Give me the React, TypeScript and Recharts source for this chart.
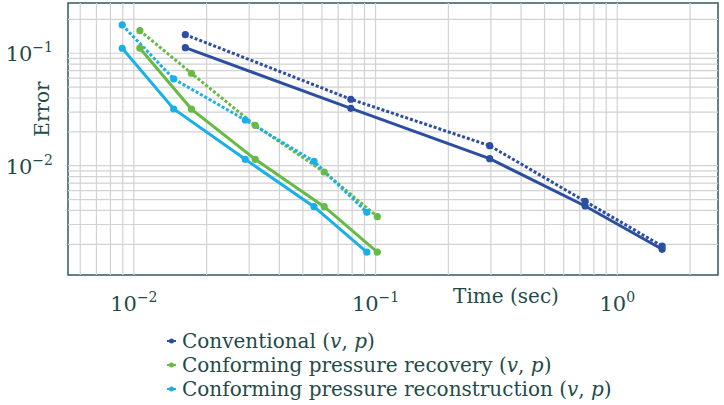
import { LineChart, Line, XAxis, YAxis, ReferenceLine, ReferenceArea } from 'recharts'

const conventionalTime = [0.01633, 0.079, 0.2965, 0.736, 1.533]
const conventionalErrV = [0.1121, 0.0324, 0.01154, 0.00438, 0.001804]
const conventionalErrP = [0.1464, 0.039, 0.01507, 0.00482, 0.00193]

const recoveryTime = [0.01059, 0.0173, 0.03177, 0.0613, 0.1017]
const recoveryErrV = [0.111, 0.0319, 0.0114, 0.00432, 0.0017]
const recoveryErrP = [0.159, 0.0664, 0.02288, 0.00879, 0.003518]

const reconstructionTime = [0.00895, 0.01462, 0.0289, 0.0556, 0.092]
const reconstructionErrV = [0.1108, 0.03194, 0.0114, 0.00432, 0.0017]
const reconstructionErrP = [0.1786, 0.0591, 0.0255, 0.01094, 0.003849]

const xTicks = [0.01, 0.1, 1]
const yTicks = [0.01, 0.1]
const xGrid = [0.006, 0.007, 0.008, 0.009, 0.01, 0.02, 0.03, 0.04, 0.05, 0.06, 0.07, 0.08, 0.09, 0.1, 0.2, 0.3, 0.4, 0.5, 0.6, 0.7, 0.8, 0.9, 1, 2]
const yGrid = [0.002, 0.003, 0.004, 0.005, 0.006, 0.007, 0.008, 0.009, 0.01, 0.02, 0.03, 0.04, 0.05, 0.06, 0.07, 0.08, 0.09, 0.1, 0.2]
const xDomain = [0.00534, 2.61]
const yDomain = [0.001066, 0.28]

const DARK = '#2b4ea0'
const GREEN = '#67ba45'
const CYAN = '#19afe9'
const TEXT = '#1f4b49'
const FONT = '"DejaVu Serif", serif'

const pts = (t: number[], e: number[]) => t.map((x, i) => ({ t: x, e: e[i] }))

const series = [
  { name: 'conv-v', data: pts(conventionalTime, conventionalErrV), color: DARK, dash: undefined },
  { name: 'conv-p', data: pts(conventionalTime, conventionalErrP), color: DARK, dash: '3 2' },
  { name: 'rec-v', data: pts(recoveryTime, recoveryErrV), color: GREEN, dash: undefined },
  { name: 'rec-p', data: pts(recoveryTime, recoveryErrP), color: GREEN, dash: '3 2' },
  { name: 'recon-v', data: pts(reconstructionTime, reconstructionErrV), color: CYAN, dash: undefined },
  { name: 'recon-p', data: pts(reconstructionTime, reconstructionErrP), color: CYAN, dash: '3 2' },
]

const legendItems = [
  { label: 'Conventional', color: DARK },
  { label: 'Conforming pressure recovery', color: GREEN },
  { label: 'Conforming pressure reconstruction', color: CYAN },
]

const pow = (v: number) => Math.round(Math.log10(v))
const sup = (v: number) => {
  const p = pow(v)
  return p < 0 ? '\u2212' + Math.abs(p) : String(p)
}

const XTick = ({ x, y, payload }: any) => (
  <text x={x} y={y + 28} textAnchor="middle" fill={TEXT} fontFamily={FONT} fontSize={21}>
    10<tspan fontSize={14} dy={-9}>{sup(payload.value)}</tspan>
  </text>
)

const YTick = ({ x, y, payload }: any) => (
  <text x={x - 7} y={y + 8} textAnchor="end" fill={TEXT} fontFamily={FONT} fontSize={21}>
    10<tspan fontSize={14} dy={-9}>{sup(payload.value)}</tspan>
  </text>
)

export default function App() {
  return (
    <div style={{ position: 'absolute', left: 0, top: 0, width: 724, height: 405, background: '#fff' }}>
      <LineChart width={724} height={405} margin={{ top: 3, right: 6, left: 0, bottom: 0 }}>
        {xGrid.map((v) => (
          <ReferenceLine key={'x' + v} x={v} stroke="#d2d2d2" strokeWidth={1.2} />
        ))}
        {yGrid.map((v) => (
          <ReferenceLine key={'y' + v} y={v} stroke="#d2d2d2" strokeWidth={1.2} />
        ))}
        <XAxis
          type="number"
          dataKey="t"
          scale="log"
          domain={xDomain}
          allowDataOverflow
          ticks={xTicks}
          tick={<XTick />}
          tickLine={false}
          axisLine={false}
          height={130}
          label={({ viewBox }: any) => (
            <text x={viewBox.x + 438} y={viewBox.y + 28} textAnchor="middle" fill={TEXT} fontFamily={FONT} fontSize={20}>
              Time (sec)
            </text>
          )}
        />
        <YAxis
          type="number"
          dataKey="e"
          scale="log"
          domain={yDomain}
          allowDataOverflow
          ticks={yTicks}
          tick={<YTick />}
          tickLine={false}
          axisLine={false}
          width={68}
          label={() => (
            <text x={49} y={109} textAnchor="middle" fill={TEXT} fontFamily={FONT} fontSize={20} transform="rotate(-90, 49, 109)">
              Error
            </text>
          )}
        />
        <ReferenceArea x1={xDomain[0]} x2={xDomain[1]} y1={yDomain[0]} y2={yDomain[1]} fill="none" stroke="#2e5c5a" strokeWidth={1.5} />
        {series.map((s) => (
          <Line
            key={s.name}
            data={s.data}
            dataKey="e"
            type="linear"
            stroke={s.color}
            strokeWidth={3}
            strokeDasharray={s.dash}
            dot={{ r: 3.6, fill: s.color, stroke: 'none', strokeDasharray: '' }}
            activeDot={false}
            isAnimationActive={false}
          />
        ))}
      </LineChart>
      <div style={{ position: 'absolute', left: 165, top: 329, fontFamily: FONT, fontSize: 20, color: TEXT, lineHeight: '24px' }}>
        {legendItems.map((it) => (
          <div key={it.label} style={{ display: 'flex', alignItems: 'center', whiteSpace: 'nowrap' }}>
            <svg width={16} height={10} style={{ marginRight: 1 }}>
              <line x1={2} y1={5} x2={11} y2={5} stroke={it.color} strokeWidth={2} />
              <circle cx={6.5} cy={5} r={2.5} fill={it.color} />
            </svg>
            <span>
              {it.label} (<i>v</i>, <i>p</i>)
            </span>
          </div>
        ))}
      </div>
    </div>
  )
}
